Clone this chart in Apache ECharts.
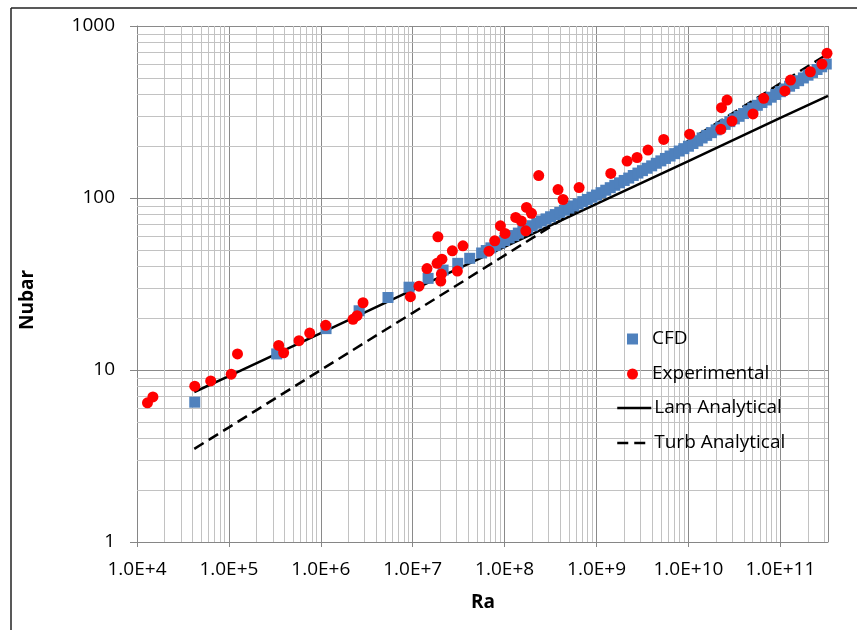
<!DOCTYPE html>
<html>
<head>
<meta charset="utf-8">
<script src="https://cdn.jsdelivr.net/npm/echarts@6/dist/echarts.min.js"></script>
<style>
html, body { margin: 0; padding: 0; background: #fff; }
#chart { width: 865px; height: 630px; }
</style>
</head>
<body>
<div id="chart"></div>
<script>
// CFD results (Ra, Nubar)
var cfdRa = [4.25e4, 3.31e5, 1.14e6, 2.61e6, 5.38e6, 9.12e6, 1.47e7, 2.14e7, 3.09e7, 4.17e7,
    5.62e7, 6.31e7, 7.08e7, 7.94e7, 8.91e7,
    1.0e8, 1.12e8, 1.26e8, 1.41e8, 1.58e8, 1.78e8, 2.0e8, 2.24e8, 2.51e8, 2.82e8,
    3.16e8, 3.55e8, 3.98e8, 4.47e8, 5.01e8, 5.62e8, 6.31e8, 7.08e8, 7.94e8, 8.91e8,
    1.0e9, 1.12e9, 1.26e9, 1.41e9, 1.58e9, 1.78e9, 2.0e9, 2.24e9, 2.51e9, 2.82e9,
    3.16e9, 3.55e9, 3.98e9, 4.47e9, 5.01e9, 5.62e9, 6.31e9, 7.08e9, 7.94e9, 8.91e9,
    1.0e10, 1.12e10, 1.26e10, 1.41e10, 1.58e10, 1.78e10, 2.0e10, 2.24e10, 2.51e10, 2.82e10,
    3.16e10, 3.55e10, 3.98e10, 4.47e10, 5.01e10, 5.62e10, 6.31e10, 7.08e10, 7.94e10, 8.91e10,
    1.0e11, 1.12e11, 1.26e11, 1.41e11, 1.58e11, 1.78e11, 2.0e11, 2.24e11, 2.51e11, 2.82e11,
    3.16e11];
var cfdNu = [6.5, 12.4, 17.4, 22.1, 26.4, 30.3, 34.1, 38.1, 41.7, 44.6,
    47.9, 49.5, 51.3, 53.0, 54.8,
    56.6, 58.6, 60.5, 62.5, 64.6, 66.8, 69.0, 71.3, 73.5, 75.6,
    77.8, 80.1, 82.4, 84.9, 87.3, 89.9, 92.5, 95.3, 98.1, 101,
    104, 107.4, 111, 114.8, 118.6, 122.5, 126.5, 130.6, 135.2, 139.6,
    144.2, 148.9, 153.8, 159.2, 164.4, 169.8, 175.4, 181.1, 187.5, 193.6,
    200, 207.5, 215.3, 223.4, 231.2, 239.9, 248.9, 258.2, 267.9, 278,
    288.4, 298.5, 309.7, 321.4, 333.4, 345.9, 358.9, 371.5, 385.5, 399.9,
    415, 430.5, 446.7, 463.4, 480.8, 498.9, 517.6, 537, 558.5, 579.4,
    601];

// experimental points (Ra, Nubar)
var expRa = [1.30e4, 1.49e4, 4.25e4, 6.34e4, 1.06e5, 1.24e5, 3.48e5, 3.94e5, 5.79e5, 7.57e5,
    1.13e6, 2.24e6, 2.48e6, 2.88e6, 9.44e6, 1.17e7, 1.43e7, 1.84e7, 2.08e7, 2.05e7,
    2.02e7, 1.88e7, 2.70e7, 3.52e7, 3.06e7, 6.76e7, 7.80e7, 9.0e7, 1.01e8, 1.32e8,
    1.52e8, 1.73e8, 1.96e8, 1.70e8, 2.35e8, 3.81e8, 4.32e8, 6.46e8, 1.43e9, 2.15e9,
    2.76e9, 3.63e9, 5.38e9, 1.03e10, 2.29e10, 2.63e10, 2.25e10, 2.98e10, 5.04e10, 6.59e10,
    1.12e11, 1.29e11, 2.12e11, 2.84e11, 3.22e11];
var expNu = [6.44, 6.97, 8.05, 8.64, 9.45, 12.4, 13.9, 12.6, 14.8, 16.4,
    18.2, 19.7, 20.7, 24.6, 26.7, 30.7, 38.9, 41.7, 44.1, 36.1,
    32.9, 59.5, 49.3, 52.7, 37.6, 49.1, 56.4, 68.9, 62.2, 77.1,
    73.4, 88.2, 81.4, 64.4, 135, 112, 98, 115, 139, 164,
    172, 190, 219, 235, 335, 371, 251, 280, 308, 380,
    419, 485, 542, 601, 694];

// analytical correlations
var lamRa = [4.2e4, 1e5, 1e6, 1e7, 1e8, 1e9, 1e10, 1e11, 3.3e11];
var lamNu = [7.45, 9.2, 16.4, 29.2, 52, 92.5, 164, 292, 393];
var turbRa = [4.2e4, 1e5, 1e6, 1e7, 1e8, 1e9, 1e10, 1e11, 3.3e11];
var turbNu = [3.48, 4.64, 10, 21.5, 46.4, 100, 215, 464, 690];

var xMin = 1e4, xMax = 3.3e11;
var yMin = 1, yMax = 1000;

function pairs(xs, ys) {
    return xs.map(function (x, i) { return [x, ys[i]]; });
}

// minor log gridlines (2..9 of each decade)
function minorValues(lo, hi) {
    var out = [];
    for (var e = Math.round(Math.log10(lo)); Math.pow(10, e) < hi; e++) {
        for (var m = 2; m <= 9; m++) {
            var v = m * Math.pow(10, e);
            if (v < hi) out.push(v);
        }
    }
    return out;
}

function isPow10(v) {
    var e = Math.log10(v);
    return Math.abs(e - Math.round(e)) < 1e-6;
}

var chart = echarts.init(document.getElementById('chart'));

var gridLines = minorValues(xMin, xMax).map(function (v) { return { xAxis: v }; })
    .concat(minorValues(yMin, yMax).map(function (v) { return { yAxis: v }; }));

var font = '"Open Sans", "Liberation Sans", sans-serif';
var legendText = { fontFamily: font, fontSize: 19, color: '#000', lineHeight: 20 };

var option = {
    animation: false,
    backgroundColor: '#fff',
    grid: { left: 137, top: 26, width: 691, height: 516 },
    legend: [
        {
            // marker entries
            orient: 'vertical',
            left: 627,
            top: 329,
            padding: 0,
            itemWidth: 11,
            itemHeight: 11,
            itemGap: 15,
            textStyle: Object.assign({ padding: [0, 0, 0, 9] }, legendText),
            data: ['CFD', 'Experimental']
        },
        {
            // line entries
            orient: 'vertical',
            left: 616,
            top: 398,
            padding: 0,
            itemWidth: 34,
            itemHeight: 11,
            itemGap: 15,
            itemStyle: { opacity: 0, color: 'rgba(0,0,0,0)', borderWidth: 0 },
            lineStyle: { width: 2.5 },
            textStyle: Object.assign({ padding: [0, 0, 0, -2] }, legendText),
            data: ['Lam Analytical', 'Turb Analytical']
        }
    ],
    xAxis: {
        type: 'log',
        logBase: 10,
        min: xMin,
        max: xMax,
        splitNumber: 5,
        axisLine: { lineStyle: { color: '#868686', width: 1 } },
        axisTick: { show: true, length: 5, lineStyle: { color: '#868686' } },
        splitLine: { show: true, lineStyle: { color: '#8a8a8a', width: 1 } },
        axisLabel: {
            margin: 18,
            fontFamily: font,
            fontSize: 19,
            color: '#000',
            showMaxLabel: false,
            formatter: function (v) {
                if (!isPow10(v)) return '';
                return '1.0E+' + Math.round(Math.log10(v));
            }
        }
    },
    yAxis: {
        type: 'log',
        logBase: 10,
        min: yMin,
        max: yMax,
        axisLine: { show: true, lineStyle: { color: '#868686', width: 1 } },
        axisTick: { show: true, length: 7, lineStyle: { color: '#868686' } },
        splitLine: { show: true, lineStyle: { color: '#8a8a8a', width: 1 } },
        axisLabel: {
            margin: 22,
            fontFamily: font,
            fontSize: 19,
            color: '#000',
            formatter: function (v) {
                return String(Math.round(v));
            }
        }
    },
    series: [
        {
            name: 'grid',
            type: 'line',
            data: [[1e5, 10]],
            symbol: 'none',
            silent: true,
            z: 1,
            lineStyle: { opacity: 0 },
            markLine: {
                z: 1,
                silent: true,
                symbol: ['none', 'none'],
                label: { show: false },
                emphasis: { disabled: true },
                lineStyle: { color: '#c2c2c2', width: 1, type: 'solid' },
                data: gridLines
            }
        },
        {
            name: 'Lam Analytical',
            type: 'line',
            data: pairs(lamRa, lamNu),
            symbol: 'none',
            z: 2,
            lineStyle: { color: '#000', width: 2.5, type: 'solid' },
            itemStyle: { color: '#000' }
        },
        {
            name: 'Turb Analytical',
            type: 'line',
            data: pairs(turbRa, turbNu),
            symbol: 'none',
            z: 2,
            lineStyle: { color: '#000', width: 2.5, type: [11, 6] },
            itemStyle: { color: '#000' }
        },
        {
            name: 'CFD',
            type: 'scatter',
            data: pairs(cfdRa, cfdNu),
            symbol: 'rect',
            symbolSize: 11,
            z: 3,
            itemStyle: { color: '#4f81bd', opacity: 1 }
        },
        {
            name: 'Experimental',
            type: 'scatter',
            data: pairs(expRa, expNu),
            symbol: 'circle',
            symbolSize: 11,
            z: 4,
            itemStyle: { color: '#ff0000', opacity: 1 }
        }
    ],
    graphic: [
        {
            type: 'text',
            x: 28, y: 300,
            rotation: Math.PI / 2,
            style: { text: 'Nubar', font: 'bold 19px ' + font, fill: '#000', align: 'center', verticalAlign: 'middle' }
        },
        {
            type: 'text',
            x: 483, y: 603,
            style: { text: 'Ra', font: 'bold 19px ' + font, fill: '#000', align: 'center', verticalAlign: 'middle' }
        },
        {
            type: 'line',
            shape: { x1: 11, y1: 8, x2: 11, y2: 630 },
            style: { stroke: '#222', lineWidth: 1.5 }
        },
        {
            type: 'line',
            shape: { x1: 11, y1: 8, x2: 857, y2: 8 },
            style: { stroke: '#222', lineWidth: 1.5 }
        }
    ]
};

chart.setOption(option);
</script>
</body>
</html>
